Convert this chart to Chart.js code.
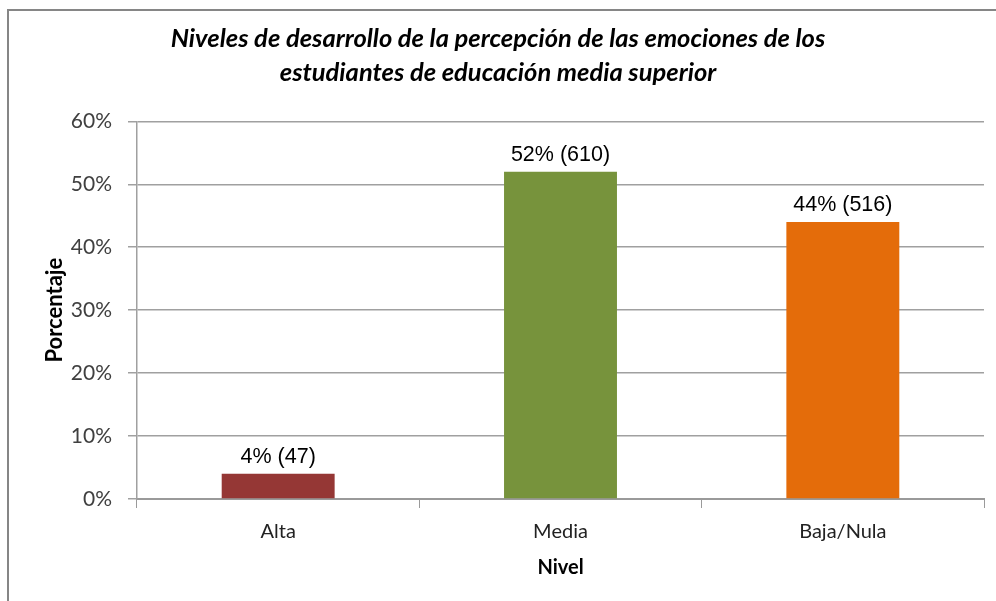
<!DOCTYPE html>
<html>
<head>
<meta charset="utf-8">
<script src="https://cdn.jsdelivr.net/npm/chart.js@4"></script>
<style>
  html, body { margin: 0; padding: 0; background: #fff; }
  #wrap { position: relative; width: 996px; height: 601px; }
</style>
</head>
<body>
<div id="wrap"><canvas id="myChart" width="996" height="601"></canvas></div>
<script>
const niveles = ['Alta', 'Media', 'Baja/Nula'];
const porcentajes = [4, 52, 44];
const frecuencias = [47, 610, 516];
const colores = ['#953735', '#77933C', '#E46C0A'];
const yTicks = [0, 10, 20, 30, 40, 50, 60];

const calibri = 'Lato, "Open Sans", sans-serif';

// marco gris (arriba e izquierda) y etiquetas sobre las barras
const extras = {
    id: 'extras',
    beforeDraw(chart) {
        const ctx = chart.ctx;
        ctx.save();
        ctx.fillStyle = '#fff';
        ctx.fillRect(0, 0, chart.width, chart.height);
        ctx.strokeStyle = '#868686';
        ctx.lineWidth = 2;
        ctx.beginPath();
        ctx.moveTo(8, chart.height);
        ctx.lineTo(8, 10);
        ctx.lineTo(chart.width, 10);
        ctx.stroke();
        ctx.restore();
    },
    afterDatasetsDraw(chart) {
        const ctx = chart.ctx;
        const meta = chart.getDatasetMeta(0);
        ctx.save();
        ctx.font = '21.5px "Liberation Sans", Arial, sans-serif';
        ctx.fillStyle = '#000';
        ctx.textAlign = 'center';
        ctx.textBaseline = 'bottom';
        meta.data.forEach((bar, i) => {
            ctx.fillText(porcentajes[i] + '% (' + frecuencias[i] + ')', bar.x, bar.y - 6);
        });
        ctx.restore();
    }
};

const canvas = document.getElementById('myChart').getContext('2d');
const myChart = new Chart(canvas, {
    type: 'bar',
    data: {
        labels: niveles,
        datasets: [{
            data: porcentajes,
            backgroundColor: colores,
            borderWidth: 0,
            barPercentage: 0.4,
            categoryPercentage: 1
        }]
    },
    options: {
        responsive: false,
        animation: false,
        layout: { padding: { left: 12, right: 12, top: 0, bottom: 0 } },
        plugins: {
            legend: { display: false },
            tooltip: { enabled: false },
            title: {
                display: true,
                text: ['Niveles de desarrollo de la percepción de las emociones de los',
                       'estudiantes de educación media superior'],
                color: '#000',
                font: { family: calibri, size: 25.5, weight: 'bold', style: 'italic', lineHeight: 1.36 },
                padding: { top: 21, bottom: 31 }
            }
        },
        scales: {
            x: {
                grid: {
                    offset: true,
                    drawOnChartArea: false,
                    drawTicks: true,
                    tickLength: 9,
                    color: '#9a9a9a'
                },
                border: { color: '#9a9a9a', width: 2 },
                ticks: {
                    color: '#222',
                    padding: 12,
                    font: { family: calibri, size: 20 }
                },
                title: {
                    display: true,
                    text: 'Nivel',
                    color: '#000',
                    font: { family: calibri, size: 20, weight: 'bold' },
                    padding: { top: 0, bottom: 21 }
                },
                afterFit(scale) { scale.height = 102; }
            },
            y: {
                min: 0,
                max: 60,
                afterBuildTicks(scale) { scale.ticks = yTicks.map(v => ({ value: v })); },
                grid: {
                    color: '#a0a0a0',
                    lineWidth: 1.5,
                    tickLength: 9
                },
                border: { color: '#a0a0a0', width: 1.5 },
                ticks: {
                    color: '#404040',
                    padding: 16,
                    font: { family: calibri, size: 21 },
                    callback: v => v + '%'
                },
                title: {
                    display: true,
                    text: 'Porcentaje',
                    color: '#000',
                    font: { family: calibri, size: 22, weight: 'bold' },
                    padding: { top: 30, bottom: 0 }
                },
                afterFit(scale) { scale.width = 125; }
            }
        }
    },
    plugins: [extras]
});
</script>
</body>
</html>
